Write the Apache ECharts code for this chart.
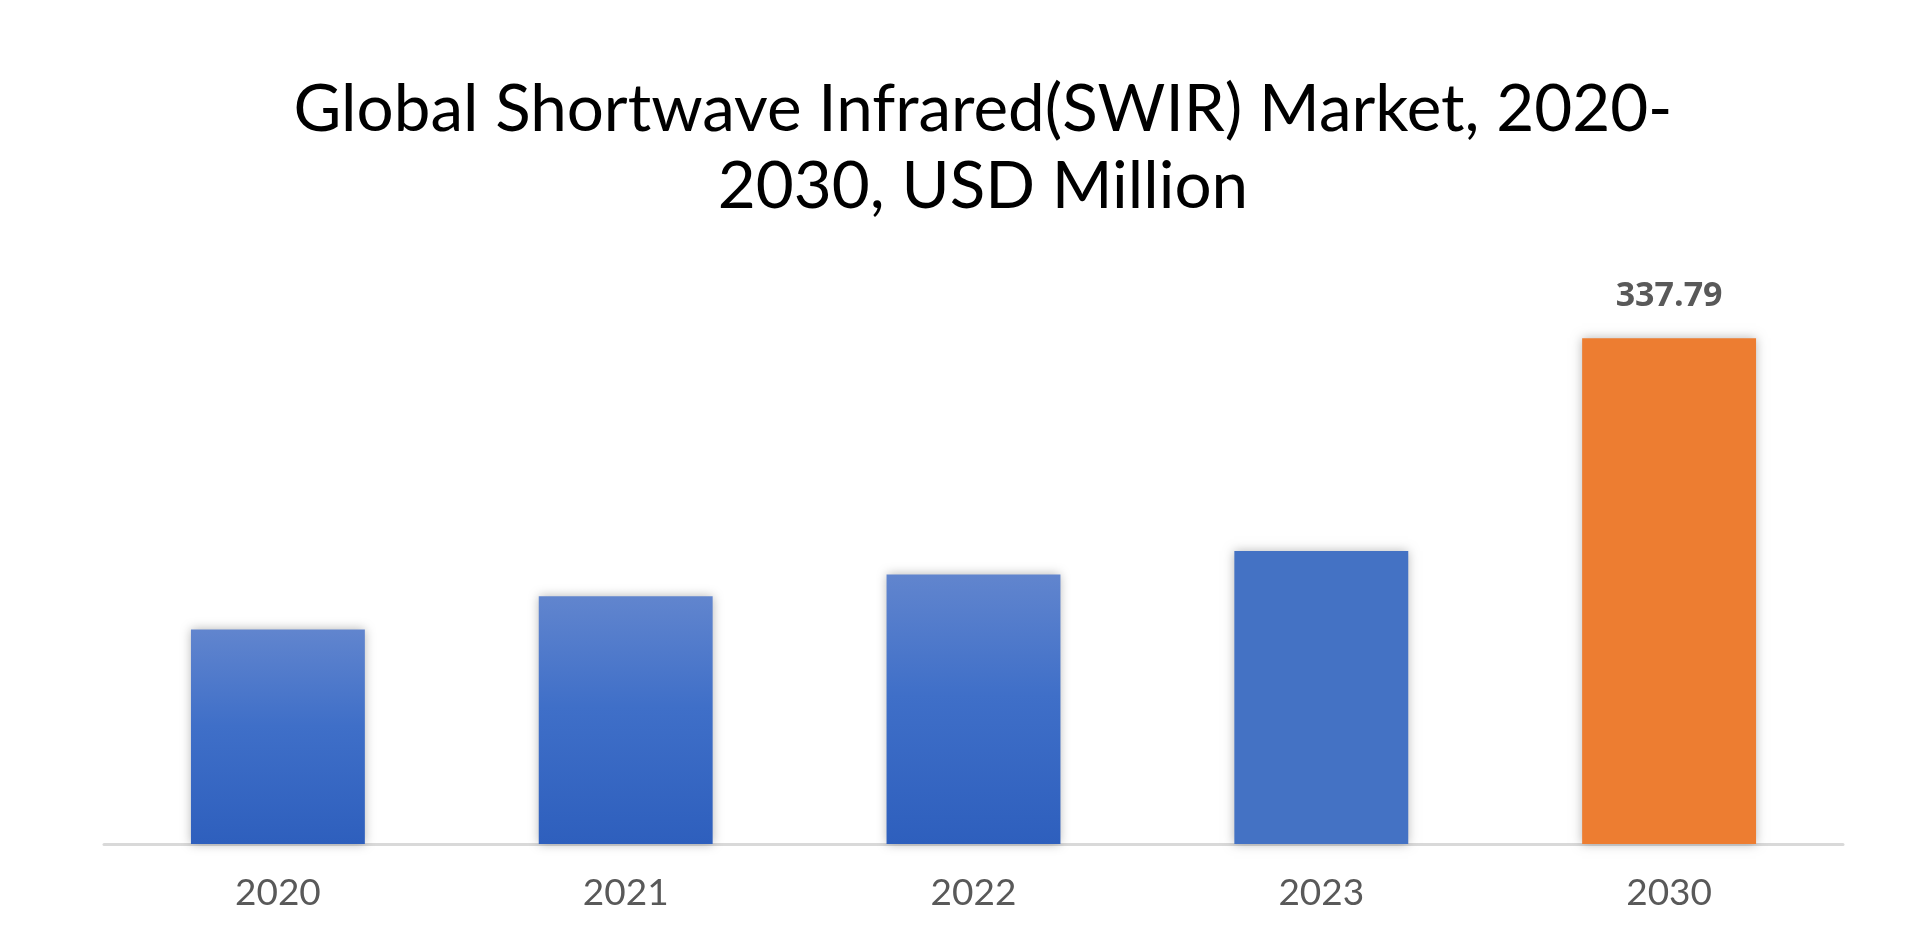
<!DOCTYPE html>
<html>
<head>
<meta charset="utf-8">
<script src="https://cdn.jsdelivr.net/npm/echarts@6/dist/echarts.min.js"></script>
<style>
html,body{margin:0;padding:0;background:#fff;}
#chart{width:1920px;height:943px;}
</style>
</head>
<body>
<div id="chart"></div>
<script>
var titleText = "Global Shortwave Infrared(SWIR) Market, 2020-\n2030, USD Million";
var categories = ["2020", "2021", "2022", "2023", "2030"];
var values = [143.3, 165.4, 180.0, 195.6, 337.79];
var labelledCategories = ["2030"];

var gradBlue = {
  type: 'linear', x: 0, y: 0, x2: 0, y2: 1,
  colorStops: [{offset: 0, color: '#6185CE'}, {offset: 0.45, color: '#3F6FC8'}, {offset: 1, color: '#2E5FBD'}]
};
var itemColors = [gradBlue, gradBlue, gradBlue, '#4472C4', '#ED7D31'];

var data = values.map(function (v, i) {
  var showLbl = labelledCategories.indexOf(categories[i]) >= 0;
  return {
    value: v,
    itemStyle: {color: itemColors[i]},
    label: {show: showLbl}
  };
});

var chart = echarts.init(document.getElementById('chart'));
chart.setOption({
  animation: false,
  backgroundColor: '#ffffff',
  title: {
    text: titleText,
    left: 978,
    top: 66,
    textAlign: 'center',
    textStyle: {
      fontFamily: "Lato, sans-serif",
      fontSize: 65.5,
      fontWeight: 'normal',
      color: '#000000',
      lineHeight: 77
    }
  },
  grid: {left: 104, right: 77, top: 245, bottom: 99, containLabel: false},
  xAxis: {
    type: 'category',
    data: categories,
    axisLine: {show: true, lineStyle: {color: '#D9D9D9', width: 3}},
    axisTick: {show: false},
    axisLabel: {
      margin: 31,
      fontFamily: "Lato, sans-serif",
      fontSize: 37,
      color: '#595959'
    }
  },
  yAxis: {
    type: 'value',
    min: 0,
    max: 400,
    show: false,
    splitLine: {show: false}
  },
  series: [{
    type: 'bar',
    data: data,
    barWidth: '50%',
    itemStyle: {
      shadowBlur: 10,
      shadowColor: 'rgba(0,0,0,0.28)',
      shadowOffsetX: 0,
      shadowOffsetY: 0
    },
    label: {
      position: 'top',
      distance: 25,
      fontFamily: "'Open Sans', sans-serif",
      fontWeight: 'bold',
      fontSize: 34,
      color: '#595959',
      formatter: function (p) { return p.value.toFixed(2); }
    }
  }]
});
</script>
</body>
</html>
